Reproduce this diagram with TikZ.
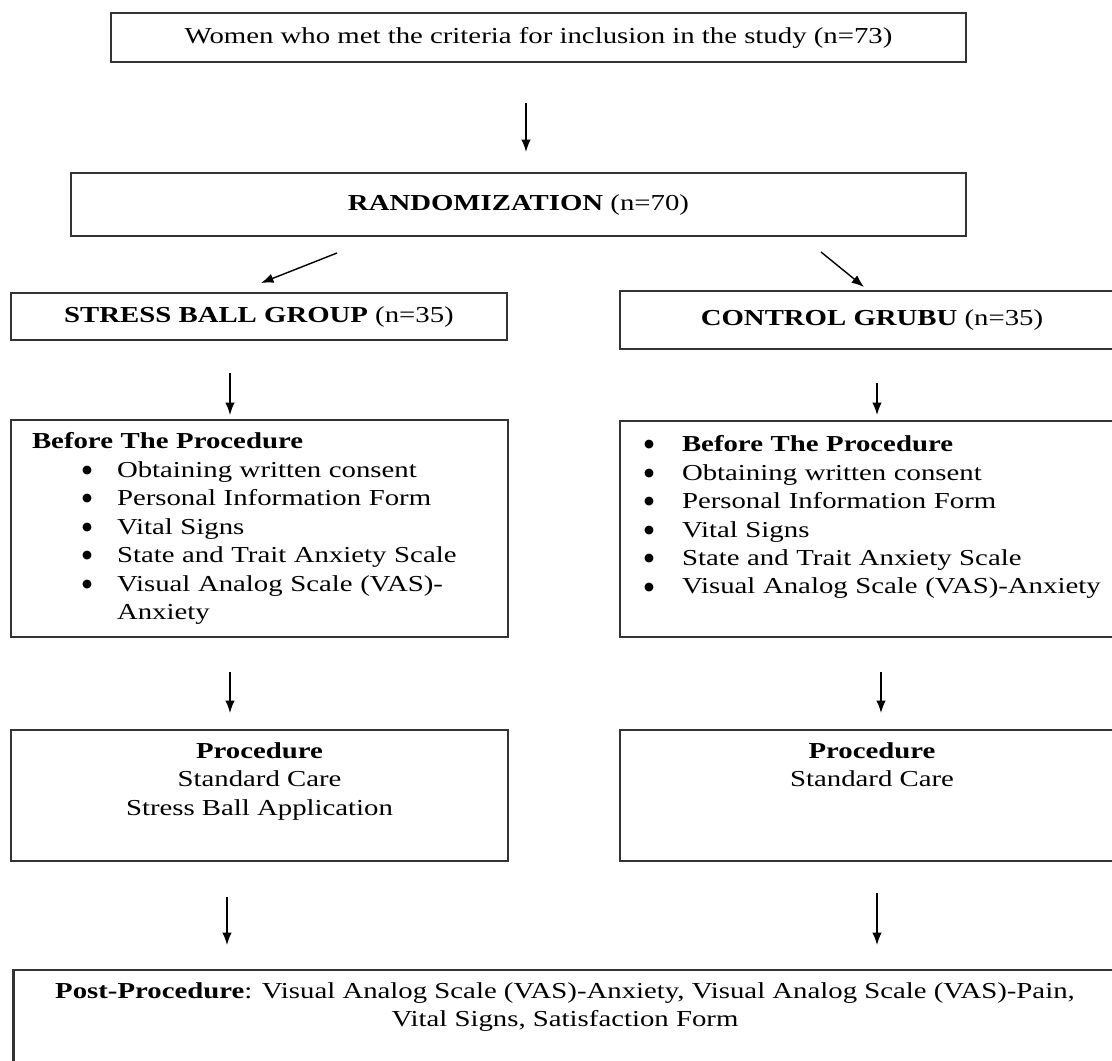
\documentclass[tikz,border=0pt]{standalone}
\usepackage{fontspec}
\setmainfont{Liberation Serif}[FakeStretch=1.26]
\newfontfamily\dotfont{DejaVu Sans}
\usetikzlibrary{arrows.meta}

\newcommand{\bulletbox}[1]{\makebox[#1][l]{\raisebox{2.2pt}{\dotfont\fontsize{6.5}{6.5}\selectfont ●}}}

\begin{document}
\begin{tikzpicture}[x=0.02cm, y=-0.02cm,
  box/.style={draw=black!80, line width=1.6pt, inner sep=0pt, font=\fontsize{13}{16.2}\selectfont},
  listbox/.style={box, align=left, inner xsep=0.42cm},
  arr/.style={-{Latex[length=2.5mm,width=1.9mm]}, line width=0.8pt}]

\clip (0,0) rectangle (1112,1061);

\node[box, minimum width=17.1cm, minimum height=0.98cm] (women) at (538.5,37.5) {\begin{tabular}{c} Women who met the criteria for inclusion in the study (n=73) \end{tabular}};
\node[box, minimum width=17.9cm, minimum height=1.26cm] (random) at (518.5,204.5) {\begin{tabular}{c} \textbf{RANDOMIZATION} (n=70) \end{tabular}};
\node[box, minimum width=9.92cm, minimum height=0.94cm] (ballgroup) at (259,316.5) {\begin{tabular}{c} \textbf{STRESS BALL GROUP} (n=35) \end{tabular}};
\node[box, minimum width=10.08cm, minimum height=1.16cm] (controlgroup) at (872,320) {\begin{tabular}{c} \textbf{CONTROL GRUBU} (n=35) \end{tabular}};

\node[listbox, text width=9.1cm, minimum height=4.34cm] (ballbefore) at (259.5,528.5) {\textbf{Before The Procedure}\\
\hspace*{1cm}\bulletbox{0.7cm}Obtaining written consent\\
\hspace*{1cm}\bulletbox{0.7cm}Personal Information Form\\
\hspace*{1cm}\bulletbox{0.7cm}Vital Signs\\
\hspace*{1cm}\bulletbox{0.7cm}State and Trait Anxiety Scale\\
\hspace*{1cm}\bulletbox{0.7cm}Visual Analog Scale (VAS)-\\
\hspace*{1.7cm}Anxiety};
\node[listbox, inner xsep=0.48cm, text width=9.64cm, minimum height=4.32cm] (controlbefore) at (885,529) {\bulletbox{0.76cm}\textbf{Before The Procedure}\\
\bulletbox{0.76cm}Obtaining written consent\\
\bulletbox{0.76cm}Personal Information Form\\
\bulletbox{0.76cm}Vital Signs\\
\bulletbox{0.76cm}State and Trait Anxiety Scale\\
\bulletbox{0.76cm}Visual Analog Scale (VAS)-Anxiety\\
~};

\node[box, minimum width=9.94cm, minimum height=2.62cm] (ballproc) at (259.5,795.5) {\begin{tabular}{c} \textbf{Procedure}\\ Standard Care\\ Stress Ball Application\\ ~ \end{tabular}};
\node[box, minimum width=10.08cm, minimum height=2.62cm] (controlproc) at (872,795.5) {\begin{tabular}{c} \textbf{Procedure}\\ Standard Care\\ ~\\ ~ \end{tabular}};

\node[box, minimum width=22.08cm, minimum height=2.6cm] (post) at (565,1035) {\begin{tabular}{c} \textbf{Post-Procedure}: Visual Analog Scale (VAS)-Anxiety, Visual Analog Scale (VAS)-Pain,\\ Vital Signs, Satisfaction Form\\ ~\\ ~ \end{tabular}};

% arrow ends
\coordinate (w1) at (526,103);
\coordinate (w2) at (526,152);
\coordinate (r1) at (337,253);
\coordinate (r2) at (261,283);
\coordinate (r3) at (821,252);
\coordinate (r4) at (864,287);
\coordinate (g1) at (230,373);
\coordinate (g2) at (230,415);
\coordinate (g3) at (877,383);
\coordinate (g4) at (877,415);
\coordinate (b1) at (230,672);
\coordinate (b2) at (230,713);
\coordinate (b3) at (881,672);
\coordinate (b4) at (881,713);
\coordinate (p1) at (227,897);
\coordinate (p2) at (227,945);
\coordinate (p3) at (877,893);
\coordinate (p4) at (877,945);

\draw[arr] (w1) -- (w2);
\draw[arr] (r1) -- (r2);
\draw[arr] (r3) -- (r4);
\draw[arr] (g1) -- (g2);
\draw[arr] (g3) -- (g4);
\draw[arr] (b1) -- (b2);
\draw[arr] (b3) -- (b4);
\draw[arr] (p1) -- (p2);
\draw[arr] (p3) -- (p4);

\end{tikzpicture}
\end{document}
